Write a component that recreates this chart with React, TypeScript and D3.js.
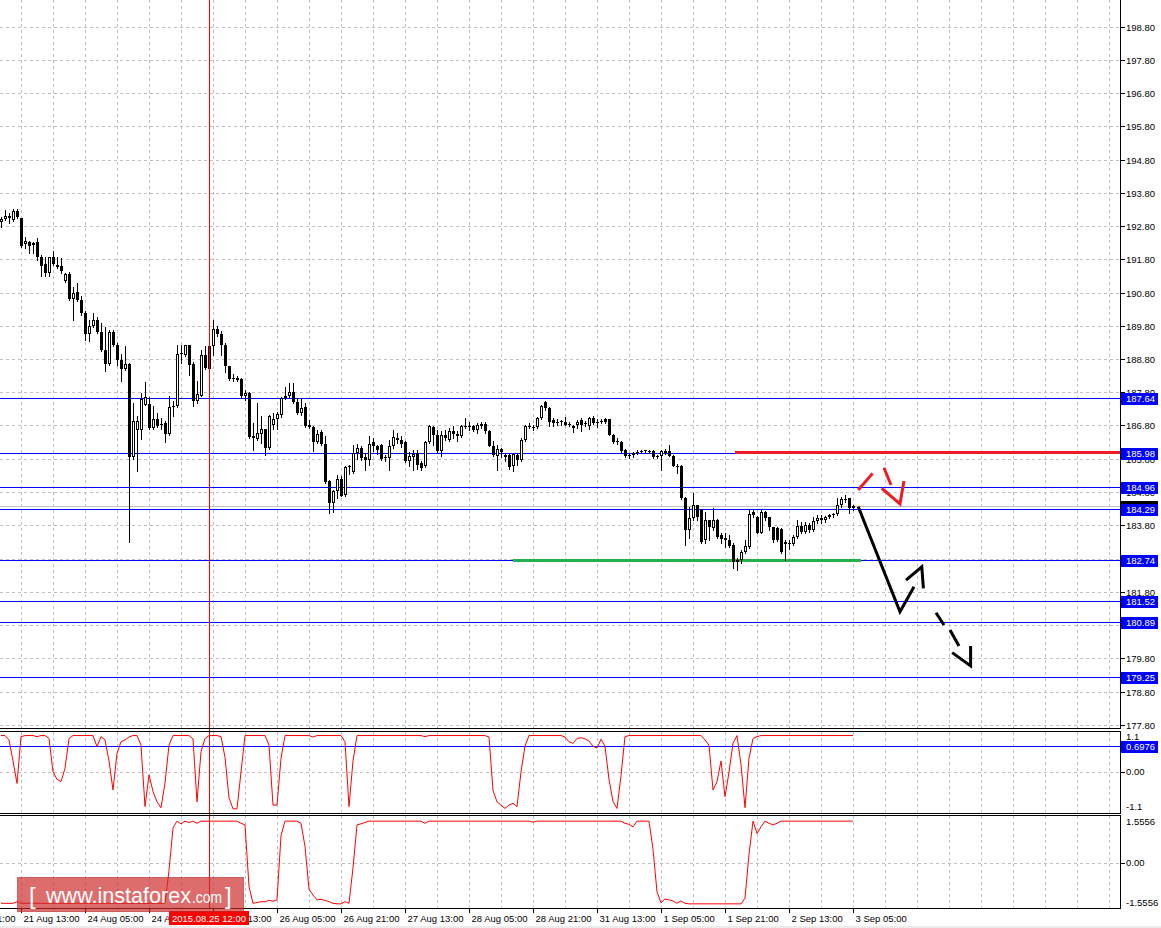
import React from "react";
import * as d3 from "d3";

// ---------- DATA (hourly candles, 21 Aug 08:00 .. 3 Sep 05:00) ----------
const opens = [
  192.93, 193.01, 193.05, 192.98, 193.25, 193.03, 192.25, 192.33, 192.22, 192.31,
  191.86, 191.65, 191.38, 191.86, 191.63, 191.60, 191.16, 191.36, 190.60, 190.82,
  190.58, 190.18, 189.55, 189.78, 189.98, 189.61, 189.08, 188.65, 189.61, 189.23,
  188.76, 188.50, 188.65, 185.85, 186.65, 186.65, 187.43, 187.46, 186.73, 187.01,
  186.86, 186.88, 186.53, 187.36, 187.38, 188.95, 188.93, 189.21, 188.66, 187.53,
  187.70, 188.93, 189.18, 189.18, 189.71, 189.55, 189.21, 188.58, 188.23, 188.18,
  188.21, 187.68, 187.78, 186.47, 186.40, 186.53, 186.68, 186.13, 186.83, 187.01,
  187.11, 187.62, 187.69, 187.80, 187.52, 187.17, 187.37, 186.82, 186.75, 186.29,
  186.59, 186.25, 185.14, 184.47, 184.84, 185.19, 184.71, 185.54, 185.39, 185.97,
  186.12, 185.85, 185.75, 186.29, 186.19, 186.22, 185.83, 185.82, 186.19, 186.42,
  186.35, 186.29, 185.72, 185.85, 185.97, 185.67, 185.57, 186.29, 186.75, 186.52,
  186.02, 186.52, 186.37, 186.64, 186.54, 186.49, 186.75, 186.77, 186.79, 186.67,
  186.84, 186.84, 186.64, 186.19, 185.87, 186.10, 185.92, 185.92, 185.57, 185.92,
  185.75, 186.37, 186.77, 186.75, 186.75, 187.02, 187.52, 187.34, 186.97, 186.92,
  186.90, 186.92, 186.85, 186.72, 186.82, 186.97, 186.87, 186.79, 187.04, 186.92,
  186.92, 186.99, 186.99, 186.52, 186.34, 186.29, 186.07, 185.92, 185.92, 185.99,
  186.02, 186.03, 186.02, 186.02, 185.87, 185.89, 186.02, 186.02, 185.89, 185.59,
  185.59, 184.62, 183.66, 184.01, 184.41, 184.26, 183.36, 183.96, 183.71, 183.96,
  183.51, 183.41, 183.36, 183.21, 182.76, 182.76, 183.01, 183.16, 184.21, 184.06,
  183.58, 184.21, 184.04, 183.74, 183.71, 183.68, 183.29, 183.28, 183.24, 183.46,
  183.78, 183.61, 183.81, 183.66, 183.93, 184.01, 183.96, 184.04, 184.11, 184.14,
  184.41, 184.58, 184.61, 184.31,
];
const highs = [
  193.08, 193.28, 193.18, 193.30, 193.30, 193.05, 192.48, 192.35, 192.33, 192.43,
  191.93, 191.88, 191.88, 192.06, 191.88, 191.83, 191.40, 191.43, 190.98, 191.10,
  190.68, 190.23, 189.98, 190.18, 190.06, 189.88, 189.76, 189.68, 189.66, 189.28,
  188.96, 189.18, 188.68, 187.48, 187.08, 187.78, 188.11, 187.65, 187.38, 187.18,
  187.03, 186.93, 187.70, 187.53, 189.21, 189.21, 189.23, 189.23, 188.71, 188.13,
  189.08, 189.18, 189.20, 189.98, 189.78, 189.63, 189.28, 188.60, 188.36, 188.28,
  188.23, 187.88, 187.81, 186.88, 187.48, 187.08, 186.68, 187.13, 187.18, 187.21,
  187.67, 187.97, 188.07, 188.07, 187.62, 187.62, 187.47, 186.97, 186.77, 186.67,
  186.67, 186.47, 185.17, 184.87, 185.32, 185.27, 185.57, 185.60, 186.22, 186.25,
  186.17, 185.97, 186.49, 186.42, 186.22, 186.24, 185.92, 186.37, 186.67, 186.57,
  186.47, 186.32, 185.99, 186.07, 186.05, 185.72, 186.32, 186.82, 186.79, 186.67,
  186.62, 186.67, 186.72, 186.77, 186.62, 186.82, 187.02, 186.92, 186.82, 186.87,
  186.92, 186.92, 186.67, 186.34, 186.22, 186.12, 185.97, 185.97, 185.97, 185.97,
  186.42, 186.82, 186.87, 186.82, 187.07, 187.42, 187.55, 187.37, 187.02, 187.00,
  186.97, 187.07, 186.90, 186.82, 186.97, 187.02, 186.94, 187.07, 187.10, 186.99,
  186.99, 187.04, 187.00, 186.55, 186.42, 186.32, 186.09, 185.95, 186.00, 186.05,
  186.05, 186.07, 186.05, 186.05, 185.92, 186.06, 186.10, 186.21, 185.92, 185.65,
  185.62, 184.64, 184.36, 184.76, 184.41, 184.28, 184.21, 183.96, 184.31, 183.98,
  183.56, 183.56, 183.51, 183.26, 182.81, 183.06, 183.36, 184.26, 184.26, 184.08,
  184.26, 184.24, 184.06, 183.76, 183.74, 183.71, 183.36, 183.36, 183.51, 183.96,
  183.91, 183.91, 183.86, 184.06, 184.11, 184.11, 184.08, 184.14, 184.16, 184.61,
  184.66, 184.71, 184.61, 184.41,
];
const lows = [
  192.78, 192.98, 192.90, 192.96, 193.03, 192.18, 192.13, 192.00, 191.98, 191.78,
  191.30, 191.30, 191.30, 191.63, 191.53, 191.40, 191.13, 190.58, 189.98, 190.53,
  190.13, 189.36, 189.33, 189.76, 189.58, 189.05, 188.43, 188.63, 189.18, 188.61,
  188.13, 188.48, 183.30, 185.78, 185.43, 186.40, 187.41, 186.68, 186.68, 186.76,
  186.68, 186.30, 186.50, 187.08, 187.35, 188.68, 188.90, 188.33, 187.38, 187.48,
  187.68, 188.51, 188.48, 188.93, 189.48, 188.93, 188.40, 188.18, 188.13, 188.13,
  187.63, 187.58, 186.43, 186.06, 186.36, 186.28, 185.91, 186.10, 186.68, 186.70,
  187.07, 187.59, 187.67, 187.47, 187.15, 187.12, 186.75, 186.72, 186.02, 186.27,
  186.22, 185.07, 184.17, 184.19, 184.62, 184.67, 184.69, 185.35, 185.37, 185.79,
  185.77, 185.47, 185.62, 186.02, 185.95, 185.77, 185.72, 185.47, 186.12, 186.27,
  186.14, 185.69, 185.57, 185.47, 185.49, 185.47, 185.55, 186.27, 186.22, 185.99,
  185.87, 186.37, 186.33, 186.42, 186.32, 186.45, 186.72, 186.67, 186.62, 186.57,
  186.72, 186.57, 186.17, 185.87, 185.47, 185.85, 185.72, 185.49, 185.42, 185.62,
  185.72, 186.32, 186.72, 186.67, 186.72, 187.00, 187.27, 186.77, 186.79, 186.82,
  186.82, 186.80, 186.78, 186.59, 186.72, 186.62, 186.77, 186.70, 186.84, 186.74,
  186.87, 186.88, 186.50, 186.27, 186.24, 185.97, 185.84, 185.82, 185.85, 185.94,
  185.97, 185.99, 185.96, 185.82, 185.82, 185.46, 185.93, 185.87, 185.57, 185.36,
  184.59, 183.21, 183.41, 183.96, 183.96, 183.26, 183.26, 183.36, 183.66, 183.43,
  183.26, 183.16, 183.16, 182.51, 182.46, 182.66, 182.96, 183.11, 184.06, 183.56,
  183.56, 183.96, 183.66, 183.31, 183.34, 182.98, 182.76, 183.10, 183.21, 183.41,
  183.56, 183.56, 183.61, 183.64, 183.88, 183.88, 183.91, 184.01, 184.06, 184.11,
  184.36, 184.51, 184.16, 184.26,
];
const closes = [
  193.01, 193.10, 193.10, 193.25, 193.06, 192.21, 192.35, 192.21, 192.30, 191.86,
  191.61, 191.40, 191.86, 191.65, 191.58, 191.45, 191.36, 190.60, 190.78, 190.56,
  190.18, 189.55, 189.78, 189.98, 189.61, 189.08, 188.65, 189.61, 189.21, 188.76,
  188.50, 188.65, 185.85, 186.93, 186.95, 187.61, 187.65, 186.73, 187.01, 186.78,
  186.81, 186.53, 187.36, 187.40, 188.95, 188.98, 189.21, 188.61, 187.53, 187.75,
  188.93, 188.53, 188.50, 189.71, 189.55, 189.21, 188.58, 188.20, 188.19, 188.23,
  187.68, 187.78, 186.45, 186.42, 186.58, 186.68, 186.13, 187.10, 187.01, 187.15,
  187.62, 187.69, 187.80, 187.50, 187.17, 187.32, 186.79, 186.75, 186.29, 186.54,
  186.25, 185.09, 184.47, 184.84, 185.19, 184.69, 185.54, 185.57, 185.97, 186.12,
  185.82, 185.75, 186.25, 186.17, 186.05, 185.79, 185.85, 186.19, 186.45, 186.35,
  186.25, 185.72, 185.89, 185.95, 185.62, 185.52, 186.29, 186.77, 186.52, 186.02,
  186.52, 186.42, 186.64, 186.54, 186.47, 186.77, 186.79, 186.78, 186.67, 186.82,
  186.77, 186.62, 186.19, 185.92, 186.10, 185.99, 185.85, 185.54, 185.95, 185.75,
  186.37, 186.79, 186.79, 186.73, 187.02, 187.39, 187.32, 186.92, 186.87, 186.90,
  186.94, 186.82, 186.84, 186.79, 186.92, 186.82, 186.86, 187.02, 186.87, 186.87,
  186.93, 186.92, 186.52, 186.30, 186.29, 186.02, 185.87, 185.87, 185.97, 186.01,
  186.01, 186.05, 186.01, 185.85, 185.85, 186.02, 185.96, 185.89, 185.59, 185.58,
  184.62, 183.67, 184.01, 184.41, 184.04, 183.31, 183.96, 183.74, 183.96, 183.46,
  183.38, 183.36, 183.18, 182.68, 182.70, 183.01, 183.18, 184.14, 184.11, 183.58,
  184.21, 184.03, 183.74, 183.36, 183.36, 183.01, 183.24, 183.23, 183.46, 183.78,
  183.61, 183.81, 183.66, 183.93, 184.01, 183.96, 184.04, 184.11, 184.14, 184.41,
  184.58, 184.59, 184.31, 184.38,
];

// oscillator in the first sub-window (scale -1.1 .. 1.1)
const osc1 = [
  0.99, 0.99, 0.87, 0.30, -0.31, 0.96, 0.99, 0.99, 0.99, 0.96,
  0.99, 0.99, 0.91, 0.01, -0.20, -0.26, 0.10, 0.91, 0.99, 0.99,
  0.99, 0.99, 0.99, 0.99, 0.69, 0.96, 0.87, 0.30, -0.49, 0.50,
  0.82, 0.87, 0.95, 0.99, 0.99, 0.73, -0.94, -0.08, -0.53, -0.81,
  -0.97, -0.30, 0.73, 0.99, 0.99, 0.99, 0.99, 0.99, 0.90, -0.81,
  0.55, 0.91, 0.99, 0.99, 0.99, 0.96, 0.40, -0.70, -1.00, -1.00,
  0.00, 0.99, 0.99, 0.99, 0.99, 0.99, 0.99, 0.73, -0.90, -0.90,
  0.37, 0.99, 0.99, 0.99, 0.99, 0.99, 0.99, 0.99, 0.95, 0.99,
  0.99, 0.99, 0.99, 0.99, 0.99, 0.99, 0.82, -0.94, 0.30, 0.99,
  0.99, 0.99, 0.99, 0.99, 0.99, 0.99, 0.99, 0.99, 0.99, 0.99,
  0.99, 0.99, 0.99, 0.99, 0.99, 0.99, 0.96, 0.99, 0.99, 0.99,
  0.99, 0.99, 0.99, 0.99, 0.99, 0.99, 0.99, 0.99, 0.99, 0.99,
  0.99, 0.99, 0.95, -0.50, -0.81, -0.90, -0.99, -0.90, -0.85, -0.94,
  0.00, 0.70, 0.99, 0.99, 0.99, 0.99, 0.99, 0.99, 0.99, 0.99,
  0.99, 0.95, 0.82, 0.78, 0.91, 0.93, 0.90, 0.84, 0.70, 0.65,
  0.89, 0.70, -0.20, -0.80, -0.99, -0.10, 0.96, 0.99, 0.99, 0.99,
  0.99, 0.99, 0.99, 0.99, 0.99, 0.99, 0.99, 0.99, 0.99, 0.99,
  0.99, 0.99, 0.99, 0.99, 0.99, 0.99, 0.87, 0.73, -0.49, -0.26,
  0.30, -0.67, 0.00, 0.78, 0.99, 0.20, -0.97, 0.37, 0.91, 0.96,
  0.99, 0.99, 0.99, 0.99, 0.99, 0.99, 0.99, 0.99, 0.99, 0.99,
  0.99, 0.99, 0.99, 0.99, 0.99, 0.99, 0.99, 0.99, 0.99, 0.99,
  0.99, 0.99, 0.99, 0.99,
];

// oscillator in the second sub-window (scale -1.5556 .. 1.5556)
const osc2 = [
  -1.53, -1.53, -1.53, -1.53, -1.47, -1.53, -1.53, -1.53, -1.53, -1.53,
  -1.53, -1.53, -1.53, -1.53, -1.53, -1.53, -1.53, -1.53, -1.53, -1.53,
  -1.53, -1.53, -1.53, -1.53, -1.53, -1.53, -1.53, -1.53, -1.53, -1.53,
  -1.53, -1.53, -1.53, -1.53, -1.53, -1.53, -1.53, -1.53, -1.53, -1.53,
  -1.53, -1.53, -0.30, 1.30, 1.55, 1.45, 1.55, 1.50, 1.55, 1.47,
  1.55, 1.55, 1.55, 1.55, 1.55, 1.55, 1.55, 1.55, 1.55, 1.55,
  1.47, 1.41, -0.90, -1.53, -1.50, -1.47, -1.47, -1.42, -1.45, -1.40,
  1.00, 1.55, 1.55, 1.55, 1.55, 1.47, 0.60, -1.00, -1.22, -1.40,
  -1.38, -1.42, -1.47, -1.53, -1.55, -1.55, -1.47, -1.53, -0.20, 1.41,
  1.45, 1.50, 1.55, 1.55, 1.55, 1.55, 1.55, 1.55, 1.55, 1.55,
  1.55, 1.55, 1.55, 1.55, 1.55, 1.55, 1.47, 1.55, 1.55, 1.55,
  1.55, 1.55, 1.55, 1.55, 1.55, 1.55, 1.55, 1.55, 1.55, 1.55,
  1.55, 1.55, 1.55, 1.55, 1.55, 1.55, 1.55, 1.55, 1.55, 1.55,
  1.55, 1.55, 1.55, 1.51, 1.55, 1.55, 1.55, 1.55, 1.55, 1.55,
  1.55, 1.55, 1.55, 1.55, 1.55, 1.55, 1.55, 1.55, 1.55, 1.55,
  1.55, 1.55, 1.55, 1.55, 1.55, 1.55, 1.47, 1.43, 1.34, 1.55,
  1.55, 1.55, 1.55, 0.50, -1.10, -1.51, -1.37, -1.40, -1.44, -1.53,
  -1.44, -1.53, -1.55, -1.55, -1.55, -1.55, -1.55, -1.55, -1.55, -1.55,
  -1.55, -1.55, -1.55, -1.55, -1.55, -1.55, -1.34, 0.30, 1.55, 1.09,
  1.34, 1.55, 1.47, 1.41, 1.47, 1.55, 1.55, 1.55, 1.55, 1.55,
  1.55, 1.55, 1.55, 1.55, 1.55, 1.55, 1.55, 1.55, 1.55, 1.55,
  1.55, 1.55, 1.55, 1.55,
];

const priceTicks = [198.8, 197.8, 196.8, 195.8, 194.8, 193.8, 192.8, 191.8, 190.8, 189.8, 188.8, 187.8, 186.8, 185.8, 184.8, 183.8, 182.8, 181.8, 180.8, 179.8, 178.8, 177.8];
const timeLabels = ["20 Aug 21:00", "21 Aug 13:00", "24 Aug 05:00", "24 Aug 21:00", "25 Aug 13:00", "26 Aug 05:00", "26 Aug 21:00", "27 Aug 13:00", "28 Aug 05:00", "28 Aug 21:00", "31 Aug 13:00", "1 Sep 05:00", "1 Sep 21:00", "2 Sep 13:00", "3 Sep 05:00"];
const timeLabelBars = [-11, 5, 21, 37, 53, 69, 85, 101, 117, 133, 149, 165, 181, 197, 213];
const levelLines = [187.64, 185.98, 184.96, 184.29, 182.74, 181.52, 180.89, 179.25];
const bidPrice = 184.38;
const osc1Level = 0.6976;
const osc1Labels = ["1.1", "0.00", "-1.1"];
const osc2Labels = ["1.5556", "0.00", "-1.5556"];
const crosshairBar = 52;
const crosshairLabel = "2015.08.25 12:00";
const resistance = { fromBar: 183.5, toBar: 280, price: 185.98 };
const support = { fromBar: 128, toBar: 215, price: 182.74 };
// hand-drawn forecast arrows, in (bar, price)
const redStrokes: [number, number][][] = [
  [[214.3, 184.86], [217.9, 185.36]],
  [[220.75, 185.53], [222.5, 185.01]],
  [[220.2, 184.91], [224.75, 184.44], [225.75, 185.13]],
];
const blackStrokes: [number, number][][] = [
  [[214.3, 184.36], [224.75, 181.2], [228.25, 181.95]],
  [[226.25, 182.15], [230.2, 182.55], [230.6, 181.9]],
  [[233.75, 181.17], [235.75, 180.8]],
  [[237.25, 180.65], [239.5, 180.17]],
  [[237.8, 179.97], [242.4, 179.57], [242.4, 180.17]],
];

const FONT = "'Liberation Sans', Arial, sans-serif";

export default function App() {
  const W = 1161, H = 928;
  const R = 1120.5; // right edge of plotting area
  const mainBottom = 728.5;
  const p1Top = 731.5, p1Bottom = 813.5;
  const p2Top = 815.5, p2Bottom = 908.5;

  const x = d3.scaleLinear().domain([0, 213]).range([1, 853]);
  const y = d3.scaleLinear().domain([177.8, 198.8]).range([724.75, 26.5]);
  const y1 = d3.scaleLinear().domain([-1.1, 1.1]).range([812.5, 731.5]);
  const y2 = d3.scaleLinear().domain([-1.5556, 1.5556]).range([904, 821]);

  const gridBars = d3.range(5, 285, 8);
  const lineGen = d3.line<[number, number]>().x((d) => x(d[0])).y((d) => y(d[1]));
  const osc1Line = d3.line<number>().x((_, i) => x(i)).y((d) => y1(d))(osc1) || "";
  const osc2Line = d3.line<number>().x((_, i) => x(i)).y((d) => y2(d))(osc2) || "";

  const candles = opens.map((o, i) => {
    const c = closes[i];
    const cx = Math.round(x(i));
    const yh = Math.round(y(highs[i]));
    const yl = Math.round(y(lows[i]));
    const yTop = Math.round(y(Math.max(o, c)));
    const yBot = Math.round(y(Math.min(o, c)));
    const bull = c >= o;
    const hgt = yBot - yTop;
    let body;
    if (hgt < 2) {
      body = <rect x={cx - 1} y={yTop} width={3} height={1} fill="#000" />;
    } else if (bull) {
      body = <rect x={cx - 0.5} y={yTop + 0.5} width={2} height={hgt - 1} fill="#fff" stroke="#000" strokeWidth={1} />;
    } else {
      body = <rect x={cx - 1} y={yTop} width={3} height={hgt} fill="#000" />;
    }
    return (
      <g key={i}>
        <line x1={cx + 0.5} x2={cx + 0.5} y1={yh} y2={yl + 1} stroke="#000" strokeWidth={1} />
        {body}
      </g>
    );
  });

  const priceBox = (v: number, txt: string, fill: string, key: string, yy?: number) => {
    const cy = yy !== undefined ? yy : Math.round(y(v)) + 0.5;
    return (
      <g key={key}>
        <rect x={1121} y={cy - 6} width={37} height={12} fill={fill} />
        <text x={1126} y={cy} dy="0.35em" fill="#fff" fontSize={9.5} fontFamily={FONT}>{txt}</text>
      </g>
    );
  };

  const xc = Math.round(x(crosshairBar)) + 0.5;

  return (
    <svg width={W} height={H} style={{ position: "absolute", left: 0, top: 0, display: "block", background: "#fff" }} shapeRendering="crispEdges">
      <defs>
        <clipPath id="mainclip"><rect x={0} y={0} width={R} height={mainBottom} /></clipPath>
        <clipPath id="p1clip"><rect x={0} y={p1Top} width={R} height={p1Bottom - p1Top} /></clipPath>
        <clipPath id="p2clip"><rect x={0} y={p2Top} width={R} height={p2Bottom - p2Top} /></clipPath>
      </defs>
      <rect x={0} y={0} width={W} height={H} fill="#fff" />
      <rect x={0} y={926} width={W} height={2} fill="#ececec" />

      {/* grids */}
      <g stroke="#c0c0c0" strokeWidth={1} strokeDasharray="3,3">
        {priceTicks.map((p) => (
          <line key={"hg" + p} x1={0} x2={R} y1={Math.round(y(p)) + 0.5} y2={Math.round(y(p)) + 0.5} />
        ))}
        <line x1={0} x2={R} y1={Math.round(y1(0)) + 0.5} y2={Math.round(y1(0)) + 0.5} />
        <line x1={0} x2={R} y1={Math.round(y2(0)) + 0.5} y2={Math.round(y2(0)) + 0.5} />
        {gridBars.map((b) => {
          const gx = Math.round(x(b)) + 0.5;
          if (gx > R) return null;
          return (
            <g key={"vg" + b}>
              <line x1={gx} x2={gx} y1={0} y2={mainBottom} />
              <line x1={gx} x2={gx} y1={p1Top} y2={p1Bottom} />
              <line x1={gx} x2={gx} y1={p2Top} y2={p2Bottom} />
            </g>
          );
        })}
      </g>

      {/* main window */}
      <g clipPath="url(#mainclip)">
        <line x1={0} x2={R} y1={Math.round(y(bidPrice)) + 0.5} y2={Math.round(y(bidPrice)) + 0.5} stroke="#c0c0c0" strokeWidth={1} />
        {levelLines.map((v) => (
          <line key={"lv" + v} x1={0} x2={R} y1={Math.round(y(v)) + 0.5} y2={Math.round(y(v)) + 0.5} stroke="#0000ff" strokeWidth={1} />
        ))}
        <line x1={x(resistance.fromBar)} x2={Math.min(x(resistance.toBar), R)} y1={y(resistance.price)} y2={y(resistance.price)} stroke="#ed1c24" strokeWidth={3} />
        <line x1={x(support.fromBar)} x2={x(support.toBar)} y1={y(support.price)} y2={y(support.price)} stroke="#22b14c" strokeWidth={3} />
        {candles}
        <g shapeRendering="auto" fill="none" strokeLinejoin="miter" strokeLinecap="butt">
          {redStrokes.map((s, i) => (
            <path key={"r" + i} d={lineGen(s) || ""} stroke="#ed1c24" strokeWidth={3} />
          ))}
          {blackStrokes.map((s, i) => (
            <path key={"b" + i} d={lineGen(s) || ""} stroke="#000" strokeWidth={3} />
          ))}
        </g>
      </g>

      {/* indicator 1 */}
      <g clipPath="url(#p1clip)">
        <line x1={0} x2={R} y1={Math.round(y1(osc1Level)) + 0.5} y2={Math.round(y1(osc1Level)) + 0.5} stroke="#0000ff" strokeWidth={1} />
        <path d={osc1Line} fill="none" stroke="#ff0000" strokeWidth={1} shapeRendering="auto" />
      </g>
      {/* indicator 2 */}
      <g clipPath="url(#p2clip)">
        <path d={osc2Line} fill="none" stroke="#ff0000" strokeWidth={1} shapeRendering="auto" />
      </g>

      {/* crosshair */}
      <line x1={xc} x2={xc} y1={0} y2={p2Bottom} stroke="#ff0000" strokeWidth={1} />

      {/* frames */}
      <g stroke="#000" strokeWidth={1} fill="none">
        <line x1={0} x2={R} y1={mainBottom} y2={mainBottom} />
        <line x1={0} x2={R} y1={p1Top} y2={p1Top} />
        <line x1={0} x2={R} y1={p1Bottom} y2={p1Bottom} />
        <line x1={0} x2={R} y1={p2Top} y2={p2Top} />
        <line x1={0} x2={R} y1={p2Bottom} y2={p2Bottom} />
        <line x1={R} x2={R} y1={0} y2={mainBottom} />
        <line x1={R} x2={R} y1={p1Top} y2={p1Bottom} />
        <line x1={R} x2={R} y1={p2Top} y2={p2Bottom} />
      </g>

      {/* right price axis */}
      <g fontFamily={FONT} fontSize={9.5} fill="#000">
        {priceTicks.map((p) => {
          const py = Math.round(y(p)) + 0.5;
          return (
            <g key={"pt" + p}>
              <line x1={R} x2={R + 4} y1={py} y2={py} stroke="#000" />
              <text x={1126} y={py} dy="0.35em">{p.toFixed(2)}</text>
            </g>
          );
        })}
        <text x={1126} y={y1(1.1) + 5} dy="0.35em">{osc1Labels[0]}</text>
        <line x1={R} x2={R + 4} y1={Math.round(y1(0)) + 0.5} y2={Math.round(y1(0)) + 0.5} stroke="#000" />
        <text x={1126} y={y1(0)} dy="0.35em">{osc1Labels[1]}</text>
        <text x={1126} y={y1(-1.1) - 6} dy="0.35em">{osc1Labels[2]}</text>
        <text x={1126} y={y2(1.5556) + 1} dy="0.35em">{osc2Labels[0]}</text>
        <line x1={R} x2={R + 4} y1={Math.round(y2(0)) + 0.5} y2={Math.round(y2(0)) + 0.5} stroke="#000" />
        <text x={1126} y={y2(0)} dy="0.35em">{osc2Labels[1]}</text>
        <text x={1126} y={y2(-1.5556) - 1} dy="0.35em">{osc2Labels[2]}</text>
      </g>
      {priceBox(bidPrice, bidPrice.toFixed(2), "#000", "bid")}
      {levelLines.map((v) => priceBox(v, v.toFixed(2), "#0000ff", "box" + v))}
      {priceBox(osc1Level, osc1Level.toFixed(4), "#0000ff", "oscbox", Math.round(y1(osc1Level)) + 0.5)}

      {/* time axis */}
      <g fontFamily={FONT} fontSize={9.5} fill="#000">
        {timeLabels.map((t, i) => {
          const tx = Math.round(x(timeLabelBars[i])) + 0.5;
          return (
            <g key={"tl" + i}>
              <line x1={tx} x2={tx} y1={p2Bottom} y2={p2Bottom + 4} stroke="#000" />
              <text x={tx + 2} y={922}>{t}</text>
            </g>
          );
        })}
      </g>
      <rect x={169} y={911} width={80} height={14} fill="#ff0000" />
      <text x={172} y={922} fill="#fff" fontFamily={FONT} fontSize={9.5}>{crosshairLabel}</text>

      {/* logo */}
      <g shapeRendering="auto">
        <rect x={17.5} y={877.5} width={226} height={34} fill="rgb(205,40,40)" fillOpacity={0.68} stroke="rgb(180,40,40)" strokeOpacity={0.6} />
        <text x={29} y={904} fill="#fff" fontFamily={FONT} fontSize={24} fontWeight={300}>[</text>
        <text x={46} y={903} fill="#fff" fontFamily={FONT} fontSize={22} textLength={145} lengthAdjust="spacingAndGlyphs">www.instaforex</text>
        <text x={192} y={903} fill="#fff" fontFamily={FONT} fontSize={16} textLength={30} lengthAdjust="spacingAndGlyphs">.com</text>
        <text x={225} y={904} fill="#fff" fontFamily={FONT} fontSize={24} fontWeight={300}>]</text>
      </g>
    </svg>
  );
}
